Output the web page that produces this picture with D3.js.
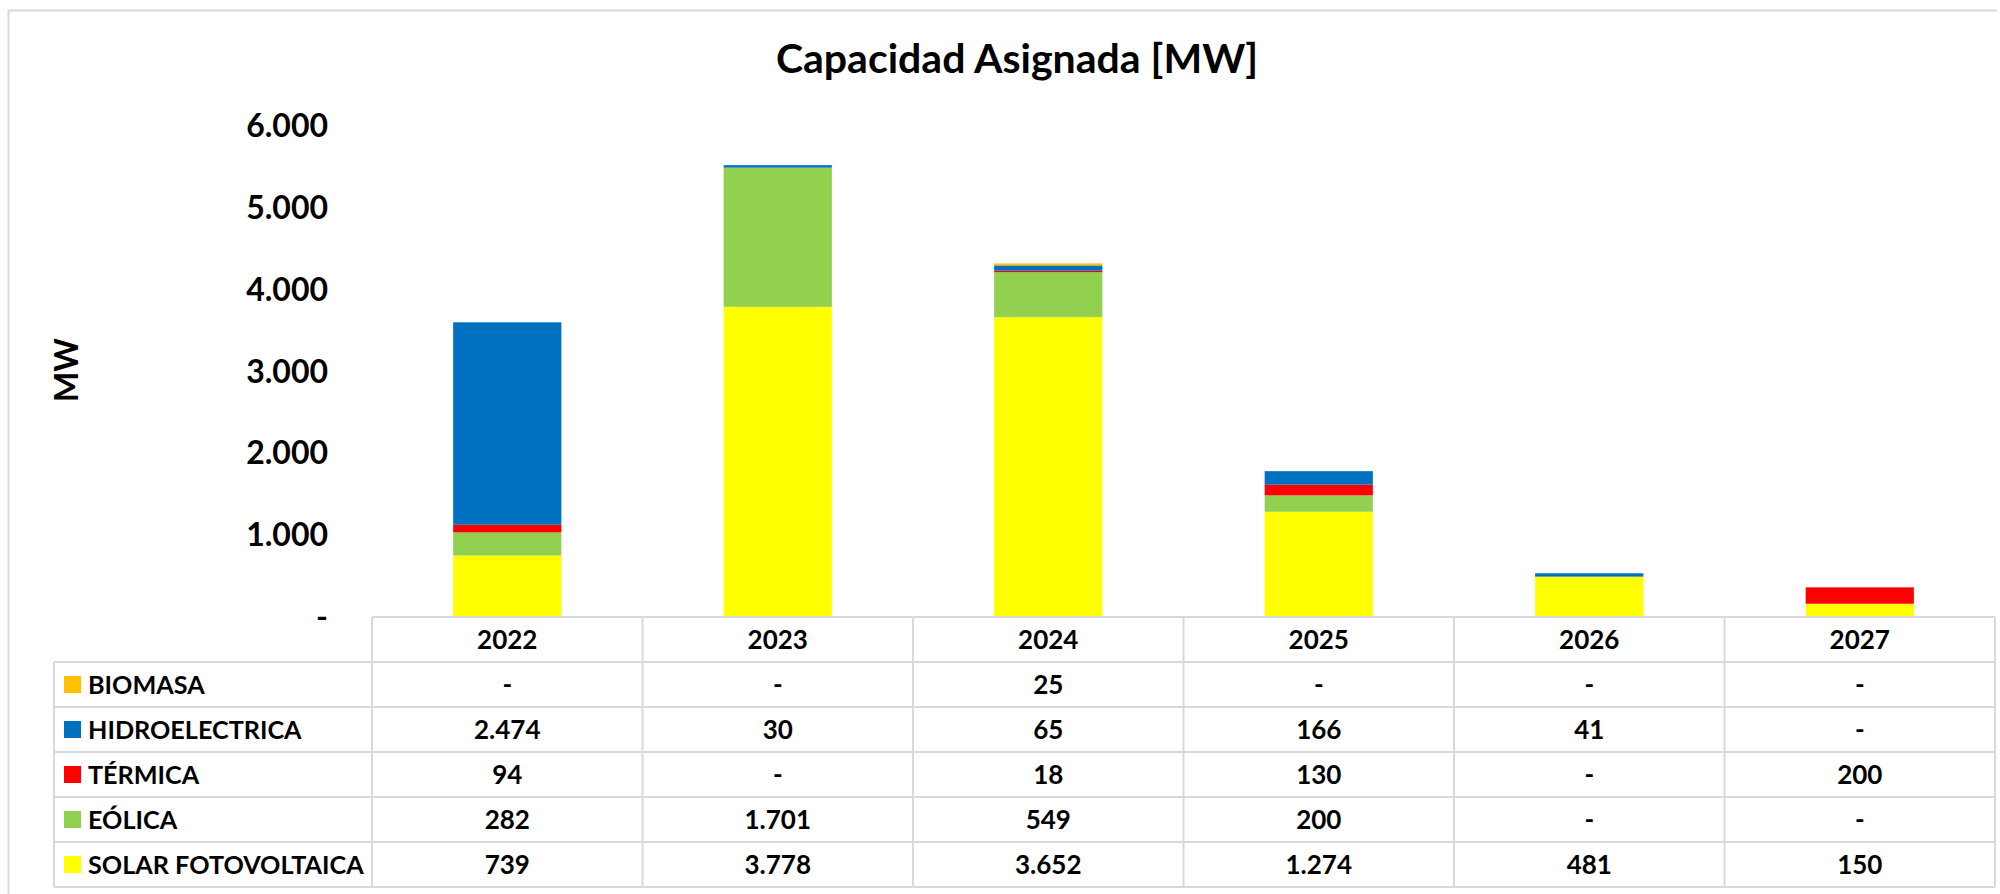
<!DOCTYPE html>
<html>
<head>
<meta charset="utf-8">
<script src="https://cdn.jsdelivr.net/npm/d3@7"></script>
<style>
  html, body { margin: 0; padding: 0; background: #fff; }
  text { font-family: Lato, "Open Sans", sans-serif; font-weight: bold; fill: #000; }
</style>
</head>
<body>
<div id="chart"></div>
<script>
const years = ["2022", "2023", "2024", "2025", "2026", "2027"];
const series = ["BIOMASA", "HIDROELECTRICA", "TÉRMICA", "EÓLICA", "SOLAR FOTOVOLTAICA"];
const colors = ["#FFC000", "#0070C0", "#FF0000", "#92D050", "#FFFF00"];

const biomasa = [0, 0, 25, 0, 0, 0];
const hidro = [2474, 30, 65, 166, 41, 0];
const termica = [94, 0, 18, 130, 0, 200];
const eolica = [282, 1701, 549, 200, 0, 0];
const solar = [739, 3778, 3652, 1274, 481, 150];

const yTicks = [0, 1000, 2000, 3000, 4000, 5000, 6000];

const width = 2000;
const height = 894;

const values = [biomasa, hidro, termica, eolica, solar];

const locale = d3.formatLocale({ decimal: ",", thousands: ".", grouping: [3], currency: ["", ""] });
const fmt = v => v === 0 ? "-" : locale.format(",d")(v);

const svg = d3.select('#chart')
  .append('svg')
  .attr('width', width)
  .attr('height', height)

// outer frame (only top/left visible)
svg.append('path')
  .attr('d', 'M8.5,900 L8.5,10.5 L1997,10.5')
  .attr('fill', 'none')
  .attr('stroke', '#d9d9d9')
  .attr('stroke-width', 2)

// table columns double as x bands
const tableLeft = 54;
const colLeft = 372;
const colRight = 1995;
const headerTop = 617;
const rowH = 45;

const xScale = d3.scaleBand()
  .domain(years)
  .range([colLeft, colRight])
  .paddingInner(0)

const yScale = d3.scaleLinear()
  .domain([0, 6000])
  .range([616, 125])

// stacked data, bottom -> top: solar, eólica, térmica, hidro, biomasa
const table = years.map((y, i) => {
  const row = { year: y };
  series.forEach((s, k) => { row[s] = values[k][i]; });
  return row;
});
const stackKeys = series.slice().reverse();
const stacked = d3.stack().keys(stackKeys)(table);

const barW = xScale.bandwidth() / 2.5;

svg.append('g')
  .selectAll('g')
  .data(stacked)
  .join('g')
  .attr('fill', d => colors[series.indexOf(d.key)])
  .selectAll('rect')
  .data(d => d)
  .join('rect')
  .attr('x', d => xScale(d.data.year) + (xScale.bandwidth() - barW) / 2)
  .attr('width', barW)
  .attr('y', d => yScale(d[1]))
  .attr('height', d => yScale(d[0]) - yScale(d[1]))

// y axis (labels only)
const yAxis = d3.axisLeft(yScale)
  .tickValues(yTicks)
  .tickFormat(fmt)
  .tickSize(0)
  .tickPadding(0)

const yg = svg.append('g')
  .attr('id', 'y-axis')
  .attr('transform', 'translate(328, 0)')
  .call(yAxis)
yg.select('.domain').remove()
yg.selectAll('text')
  .attr('font-family', 'Lato, sans-serif')
  .attr('font-size', 32)
  .attr('font-weight', 'bold')
  .attr('fill', '#000')
  .attr('dy', '0.36em')

svg.append('text')
  .attr('transform', 'translate(78, 370) rotate(-90)')
  .attr('text-anchor', 'middle')
  .attr('font-size', 32)
  .text('MW')

svg.append('text')
  .attr('x', 1017)
  .attr('y', 73)
  .attr('text-anchor', 'middle')
  .attr('font-size', 41)
  .text('Capacidad Asignada [MW]')

// data table
const grid = svg.append('g')
  .attr('stroke', '#d9d9d9')
  .attr('stroke-width', 2)
  .attr('fill', 'none')

const tableBottom = headerTop + rowH * (series.length + 1);

// horizontal lines
grid.append('line')
  .attr('x1', colLeft).attr('x2', colRight)
  .attr('y1', headerTop).attr('y2', headerTop)
d3.range(1, series.length + 2).forEach(r => {
  grid.append('line')
    .attr('x1', tableLeft).attr('x2', colRight)
    .attr('y1', headerTop + r * rowH).attr('y2', headerTop + r * rowH)
});
// vertical lines
grid.append('line')
  .attr('x1', tableLeft).attr('x2', tableLeft)
  .attr('y1', headerTop + rowH).attr('y2', tableBottom)
years.forEach(y => {
  grid.append('line')
    .attr('x1', xScale(y)).attr('x2', xScale(y))
    .attr('y1', headerTop).attr('y2', tableBottom)
});
grid.append('line')
  .attr('x1', colRight).attr('x2', colRight)
  .attr('y1', headerTop).attr('y2', tableBottom)

// header
svg.append('g')
  .selectAll('text')
  .data(years)
  .join('text')
  .attr('x', d => xScale(d) + xScale.bandwidth() / 2)
  .attr('y', headerTop + rowH / 2)
  .attr('dy', '0.36em')
  .attr('text-anchor', 'middle')
  .attr('font-size', 26)
  .text(d => d)

// rows
series.forEach((s, k) => {
  const cy = headerTop + rowH * (k + 1) + rowH / 2;
  svg.append('rect')
    .attr('x', 64)
    .attr('y', cy - 8.5)
    .attr('width', 17)
    .attr('height', 17)
    .attr('fill', colors[k])
  svg.append('text')
    .attr('x', 88)
    .attr('y', cy)
    .attr('dy', '0.36em')
    .attr('font-size', 25.2)
    .text(s)
  svg.append('g')
    .selectAll('text')
    .data(values[k])
    .join('text')
    .attr('x', (d, i) => xScale(years[i]) + xScale.bandwidth() / 2)
    .attr('y', cy)
    .attr('dy', '0.36em')
    .attr('text-anchor', 'middle')
    .attr('font-size', 26)
    .text(d => fmt(d))
});
</script>
</body>
</html>
